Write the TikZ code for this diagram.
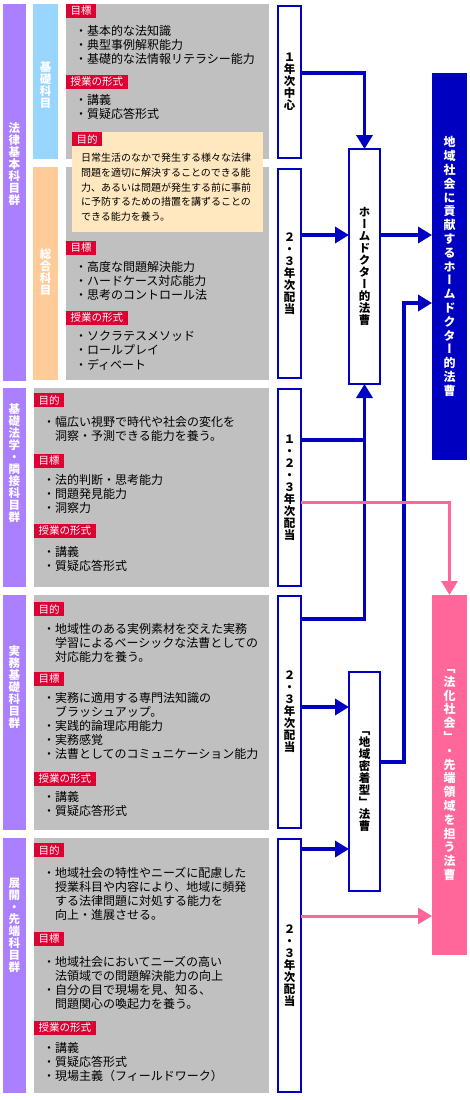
\documentclass[tikz,border=0pt]{standalone}
\usepackage{fontspec}
\setmainfont{Noto Sans CJK JP}
\newfontfamily\tatefont[RawFeature=+vert]{Noto Sans CJK JP}
\usetikzlibrary{arrows.meta}

\definecolor{grpcol}{HTML}{AA80FF}
\definecolor{kisocol}{HTML}{99D6FF}
\definecolor{sogocol}{HTML}{FFCC99}
\definecolor{pancol}{HTML}{C0C0C0}
\definecolor{tagcol}{HTML}{DD0033}
\definecolor{memocol}{HTML}{FFE8C0}
\definecolor{navy}{HTML}{0000C0}
\definecolor{pinkcol}{HTML}{FF6699}

\begin{document}
\begin{tikzpicture}[
    x=1pt, y=-1pt,
    every node/.style={inner sep=0pt, outer sep=0pt},
    grpbar/.style={anchor=north west, minimum width=23pt, fill=grpcol},
    subbar/.style={anchor=north west, minimum width=25pt},
    tate/.style={font=\tatefont\bfseries\fontsize{11.5}{12}\selectfont, align=center, text=white},
    panel/.style={anchor=north west, fill=pancol},
    tag/.style={anchor=north west, fill=tagcol, text=white, minimum height=14pt, inner xsep=4.5pt, font=\fontsize{10.5}{12}\selectfont},
    items/.style={anchor=north west, align=left, font=\fontsize{12}{14.2}\selectfont},
    yearbox/.style={draw=navy, line width=2pt, fill=white, minimum width=23pt, align=center, font=\tatefont\bfseries\fontsize{11.5}{12}\selectfont},
    lawbox/.style={yearbox, minimum width=31pt},
    goal/.style={minimum width=35pt, text=white, align=center, font=\tatefont\bfseries\fontsize{12}{13.8}\selectfont},
    arr/.style={-{Triangle[length=14pt, width=16pt]}, navy, line width=3.5pt},
    navyline/.style={navy, line width=3.5pt},
    parr/.style={-{Triangle[length=14pt, width=16pt]}, pinkcol, line width=3pt},
]

\useasboundingbox (0,0) rectangle (470,1100);
\fill[white] (0,0) rectangle (470,1100);

% subject groups
\node[grpbar, minimum height=377pt] (grpA) at (3,4) {};
\node[grpbar, minimum height=199pt] (grpB) at (3,388) {};
\node[grpbar, minimum height=235pt] (grpC) at (3,595) {};
\node[grpbar, minimum height=255pt] (grpD) at (3,838) {};
\node[tate] (grpA-t) at (14.5,164) {法\\律\\基\\本\\科\\目\\群};
\node[tate] (grpB-t) at (14.5,463) {基\\礎\\法\\学\\・\\隣\\接\\科\\目\\群};
\node[tate] (grpC-t) at (14.5,687) {実\\務\\基\\礎\\科\\目\\群};
\node[tate] (grpD-t) at (14.5,925) {展\\開\\・\\先\\端\\科\\目\\群};

\node[subbar, fill=kisocol, minimum height=155pt] (subA) at (33,4) {};
\node[subbar, fill=sogocol, minimum height=213pt] (subB) at (33,167) {};
\node[tate] (subA-t) at (45.5,85) {基\\礎\\科\\目};
\node[tate] (subB-t) at (45.5,272) {総\\合\\科\\目};

% panels
\node[panel, minimum width=203pt, minimum height=155pt] (panA) at (66,4) {};
\node[panel, minimum width=203pt, minimum height=213pt] (panB) at (66,167) {};
\node[panel, minimum width=235pt, minimum height=199pt] (panC) at (34,388) {};
\node[panel, minimum width=235pt, minimum height=235pt] (panD) at (34,595) {};
\node[panel, minimum width=235pt, minimum height=255pt] (panE) at (34,838) {};
\node[anchor=north west, fill=memocol, minimum width=191pt, minimum height=100pt] (memo) at (72,132) {};

\node[tag] (tagA1) at (66,4) {目標};
\node[items] (listA1) at (75,25) {・基本的な法知識\\・典型事例解釈能力\\・基礎的な法情報リテラシー能力};
\node[tag] (tagA2) at (66,75) {授業の形式};
\node[items] (listA2) at (75,94) {・講義\\・質疑応答形式};

\node[tag] (tagM) at (72,132) {目的};
\node[anchor=north west, align=left, font=\fontsize{10}{14.8}\selectfont] (memo-t) at (81,153)
    {日常生活のなかで発生する様々な法律\\問題を適切に解決することのできる能\\力、あるいは問題が発生する前に事前\\に予防するための措置を講ずることの\\できる能力を養う。};

\node[tag] (tagB1) at (66,241) {目標};
\node[items] (listB1) at (75,261) {・高度な問題解決能力\\・ハードケース対応能力\\・思考のコントロール法};
\node[tag] (tagB2) at (66,311) {授業の形式};
\node[items] (listB2) at (75,331) {・ソクラテスメソッド\\・ロールプレイ\\・ディベート};

\node[tag] (tagC0) at (34,393) {目的};
\node[items] (listC0) at (43,416) {・幅広い視野で時代や社会の変化を\\　洞察・予測できる能力を養う。};
\node[tag] (tagC1) at (34,454) {目標};
\node[items] (listC1) at (43,474) {・法的判断・思考能力\\・問題発見能力\\・洞察力};
\node[tag] (tagC2) at (34,524) {授業の形式};
\node[items] (listC2) at (43,546) {・講義\\・質疑応答形式};

\node[tag] (tagD0) at (34,602) {目的};
\node[items] (listD0) at (43,623) {・地域性のある実例素材を交えた実務\\　学習によるベーシックな法曹としての\\　対応能力を養う。};
\node[tag] (tagD1) at (34,672) {目標};
\node[items] (listD1) at (43,692) {・実務に適用する専門法知識の\\　ブラッシュアップ。\\・実践的論理応用能力\\・実務感覚\\・法曹としてのコミュニケーション能力};
\node[tag] (tagD2) at (34,772) {授業の形式};
\node[items] (listD2) at (43,791) {・講義\\・質疑応答形式};

\node[tag] (tagE0) at (34,843) {目的};
\node[items] (listE0) at (43,867) {・地域社会の特性やニーズに配慮した\\　授業科目や内容により、地域に頻発\\　する法律問題に対処する能力を\\　向上・進展させる。};
\node[tag] (tagE1) at (34,932) {目標};
\node[items] (listE1) at (43,956) {・地域社会においてニーズの高い\\　法領域での問題解決能力の向上\\・自分の目で現場を見、知る、\\　問題関心の喚起力を養う。};
\node[tag] (tagE2) at (34,1021) {授業の形式};
\node[items] (listE2) at (43,1042) {・講義\\・質疑応答形式\\・現場主義（フィールドワーク）};

% year boxes
\node[yearbox, minimum height=152pt] (yr1) at (289.5,82) {１\\年\\次\\中\\心};
\node[yearbox, minimum height=209pt] (yr2) at (289.5,273.5) {２\\・\\３\\年\\次\\配\\当};
\node[yearbox, minimum height=197pt] (yr3) at (289.5,487.5) {１\\・\\２\\・\\３\\年\\次\\配\\当};
\node[yearbox, minimum height=232pt] (yr4) at (289.5,712) {２\\・\\３\\年\\次\\配\\当};
\node[yearbox, minimum height=253pt] (yr5) at (289.5,965.5) {２\\・\\３\\年\\次\\配\\当};

% lawyer types
\node[lawbox, minimum height=235pt] (home) at (364.5,266.5) {ホ\\ー\\ム\\ド\\ク\\タ\\ー\\的\\法\\曹};
\node[lawbox, minimum height=219pt] (local) at (364.5,781.5) {「\\地\\域\\密\\着\\型\\」\\法\\曹};

\node[goal, fill=navy, minimum height=387pt] (goalA) at (449.5,266.5) {地\\域\\社\\会\\に\\貢\\献\\す\\る\\ホ\\ー\\ム\\ド\\ク\\タ\\ー\\的\\法\\曹};
\node[goal, fill=pinkcol, minimum height=360pt] (goalB) at (449.5,775) {「\\法\\化\\社\\会\\」\\・\\先\\端\\領\\域\\を\\担\\う\\法\\曹};

% connectors
\coordinate (rowA) at (0,73);
\coordinate (rowB) at (0,235);
\coordinate (rowC) at (0,303);
\coordinate (rowD) at (0,440);
\coordinate (rowE) at (0,502);
\coordinate (rowF) at (0,619);
\coordinate (rowG) at (0,707);
\coordinate (rowH) at (0,762);
\coordinate (rowI) at (0,849);
\coordinate (rowJ) at (0,916);
\coordinate (riseA) at (404,0);

\draw[arr] (yr1.east |- rowA) -| (home.north);
\draw[arr] (yr2.east |- rowB) -- (home.west |- rowB);
\draw[arr] (home.east |- rowB) -- (goalA.west |- rowB);
\draw[navyline] (yr3.east |- rowD) -- (home.south |- rowD);
\draw[arr] (yr4.east |- rowF) -| (home.south);
\draw[arr] (yr4.east |- rowG) -- (local.west |- rowG);
\draw[arr] (yr5.east |- rowI) -- (local.west |- rowI);
\draw[arr] (local.east |- rowH) -| (riseA |- rowC) -- (goalA.west |- rowC);
\draw[parr] (yr3.east |- rowE) -| (goalB.north);
\draw[parr] (yr5.east |- rowJ) -- (goalB.west |- rowJ);

\end{tikzpicture}
\end{document}
